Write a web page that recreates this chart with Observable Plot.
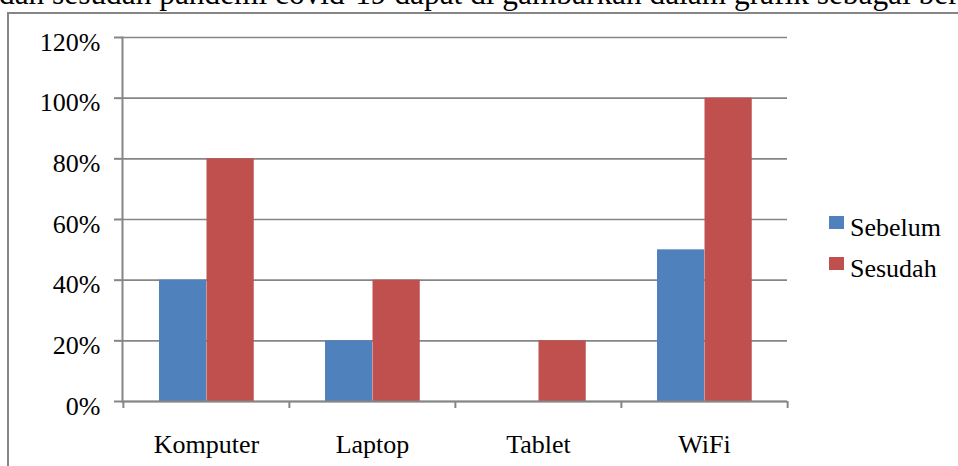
<!DOCTYPE html>
<html><head><meta charset="utf-8">
<script src="https://cdn.jsdelivr.net/npm/d3@7"></script>
<script src="https://cdn.jsdelivr.net/npm/@observablehq/plot@0.6"></script>
<style>
html,body{margin:0;padding:0;background:#fff;overflow:hidden;width:958px;height:466px;}
#page{position:relative;width:958px;height:466px;overflow:hidden;font-family:"Liberation Serif","Times New Roman",serif;}
#intro{position:absolute;left:-1px;top:-20px;white-space:nowrap;font-size:30px;line-height:1;color:#000;}
#box{position:absolute;left:7px;top:12px;width:1200px;height:600px;border-left:2px solid #868686;border-top:2px solid #868686;}
#chart{position:absolute;left:0;top:0;}
#legend{position:absolute;left:0;top:0;font-size:26px;line-height:1;color:#000;}
.sw{position:absolute;width:15px;height:13px;}
.lt{position:absolute;white-space:nowrap;}
</style></head>
<body><div id="page">
<div id="intro"></div>
<div id="box"></div>
<div id="chart"></div>
<div id="legend"></div>
</div>
<script>
const introText = "dan sesudah pandemi covid-19 dapat di gambarkan dalam grafik sebagai berikut:";
const categories = ["Komputer", "Laptop", "Tablet", "WiFi"];
const seriesNames = ["Sebelum", "Sesudah"];
const seriesColors = ["#4F81BD", "#C0504D"];
const sebelum = [0.40, 0.20, 0.00, 0.50];
const sesudah = [0.80, 0.40, 0.20, 1.00];
const yTicks = [0, 0.2, 0.4, 0.6, 0.8, 1.0, 1.2];

const W = 958, H = 466, mL = 122, mR = 171, mT = 37, mB = 65;
const step = (W - mL - mR) / categories.length;
const barW = 47.5;
const outer = 36;

const intro = document.getElementById("intro");
intro.textContent = introText;
{
  const ctx = document.createElement("canvas").getContext("2d");
  ctx.font = '100px "Liberation Serif"';
  const prefix = introText.slice(0, introText.indexOf("sebagai"));
  const w100 = ctx.measureText(prefix).width;
  const F = 818 / w100 * 100;
  intro.style.fontSize = F + "px";
  intro.style.top = (4.5 - 0.8375 * F) + "px";
}

const dataA = categories.map((c, i) => ({category: c, series: seriesNames[0], value: sebelum[i]}));
const dataB = categories.map((c, i) => ({category: c, series: seriesNames[1], value: sesudah[i]}));
const gray = "#868686";
const font = "Liberation Serif";

const plot = Plot.plot({
  width: W, height: H,
  marginLeft: mL, marginRight: mR, marginTop: mT, marginBottom: mB,
  style: {fontFamily: font, fontSize: "26px"},
  x: {type: "band", domain: categories, padding: 0, label: null},
  y: {domain: [0, 1.2], label: null},
  color: {domain: seriesNames, range: seriesColors},
  marks: [
    Plot.gridY(yTicks, {stroke: gray, strokeOpacity: 1, strokeWidth: 1.6}),
    Plot.barY(dataA, {x: "category", y: "value", fill: "series", insetLeft: outer, insetRight: step - outer - barW}),
    Plot.barY(dataB, {x: "category", y: "value", fill: "series", insetLeft: outer + barW, insetRight: step - outer - 2 * barW}),
    Plot.frame({anchor: "left", stroke: gray, strokeWidth: 2}),
    Plot.ruleY([0], {stroke: gray, strokeWidth: 2}),
    Plot.axisY({ticks: yTicks, text: null, tickSize: 8, stroke: gray, strokeWidth: 2, label: null}),
    Plot.axisY({ticks: yTicks, tickFormat: d3.format(".0%"), tickSize: 0, tickPadding: 22, dy: 5, fontSize: 26, fontFamily: font, label: null}),
    Plot.axisX({tickSize: 0, tickPadding: 33, fontSize: 26, fontFamily: font, label: null}),
    Plot.axisX({tickSize: 7, text: null, dx: -step / 2, stroke: gray, strokeWidth: 2, label: null}),
    Plot.axisX({ticks: [categories[categories.length - 1]], tickSize: 7, text: null, dx: step / 2, stroke: gray, strokeWidth: 2, label: null})
  ]
});
d3.select(plot).selectAll("text").style("font-family", '"Liberation Serif", serif').attr("fill", "#000");
document.getElementById("chart").appendChild(plot);

// legend (HTML), rows 41px apart
const legend = document.getElementById("legend");
const legX = 829, legSwTop = 215.5, legBase = 236.7, legGap = 41, legF = 26;
seriesNames.forEach((s, i) => {
  const sw = document.createElement("div");
  sw.className = "sw";
  sw.style.left = legX + "px";
  sw.style.top = (legSwTop + i * legGap) + "px";
  sw.style.background = seriesColors[i];
  const t = document.createElement("div");
  t.className = "lt";
  t.textContent = s;
  t.style.left = (legX + 21) + "px";
  t.style.top = (legBase + i * legGap - 0.8375 * legF) + "px";
  legend.appendChild(sw); legend.appendChild(t);
});
</script>
</body></html>
